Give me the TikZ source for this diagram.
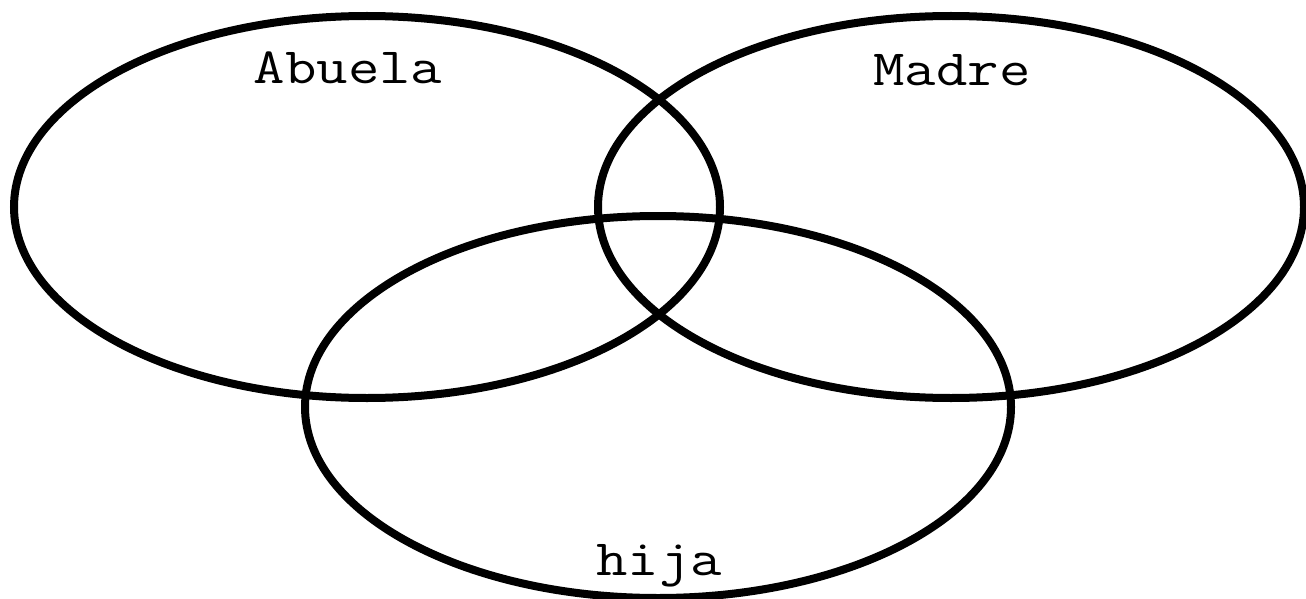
\documentclass[tikz,border=0pt]{standalone}
\usetikzlibrary{shapes.geometric}

\newcommand{\wide}[1]{\scalebox{1.2}[1]{#1}}

\begin{document}
\begin{tikzpicture}[
    x=0.5pt, y=-0.5pt,
    set/.style={draw, ellipse, line width=4pt, inner sep=0pt, minimum width=353pt, minimum height=191pt},
    setname/.style={font=\ttfamily\fontsize{25.4}{30}\selectfont, anchor=base, inner sep=0pt}
]
\useasboundingbox (0,0) rectangle (1306,599);

% ===== Sets =====
\node[set] (abuela) at (367,207) {};
\node[set] (madre) at (951,207) {};
\node[set] (hija) at (658,407) {};

% ===== Names =====
\node[setname] (abuelaname) at (348,84) {\wide{Abuela}};
\node[setname] (madrename) at (952,86) {\wide{Madre}};
\node[setname] (hijaname) at (659,575) {\wide{hija}};

\end{tikzpicture}
\end{document}
